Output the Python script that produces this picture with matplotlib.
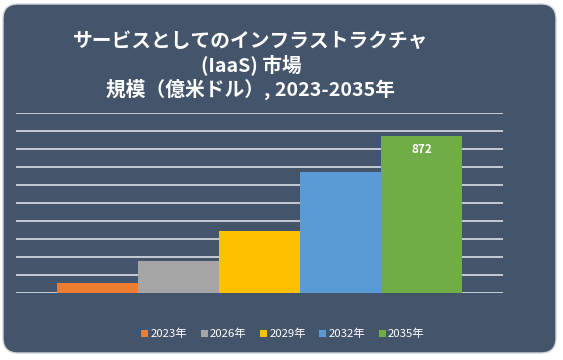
import matplotlib.pyplot as plt
from matplotlib.patches import FancyBboxPatch

plt.rcParams['font.family'] = ['Noto Sans CJK JP', 'DejaVu Sans']

years = ['2023年', '2026年', '2029年', '2032年', '2035年']
values = [59, 180, 347, 671, 872]
colors = ['#ED7D31', '#A5A5A5', '#FFC000', '#5B9BD5', '#70AD47']
title = 'サービスとしてのインフラストラクチャ\n(IaaS) 市場\n規模（億米ドル）, 2023-2035年'

bg = '#44546A'
fig = plt.figure(figsize=(5.63, 3.6), dpi=100)
fig.patch.set_facecolor('white')

# rounded dark panel (pixel coords)
panel = FancyBboxPatch((3, 7), 553, 349, boxstyle="round,pad=0,rounding_size=15",
                       transform=None, facecolor=bg, edgecolor='#D0D4DA', linewidth=1, zorder=-5)
fig.patches.append(panel)

ax = fig.add_axes([0.0284, 0.1853, 0.865, 0.5008])
ax.set_facecolor('none')
ax.set_zorder(2)

for i, (y, v, c) in enumerate(zip(years, values, colors)):
    ax.bar(i, v, width=1.0, color=c, label=y, zorder=3)

ax.set_xlim(-1, 5)
ax.set_ylim(0, 1000)
ax.set_yticks(range(0, 1001, 100))
ax.grid(axis='y', color='#E8ECF4', linewidth=1.1, zorder=1)
ax.set_axisbelow(True)
ax.set_xticks([])
ax.tick_params(axis='y', length=0, labelleft=False)
for s in ax.spines.values():
    s.set_visible(False)

ax.annotate(str(values[-1]), (4, values[-1]), xytext=(0, -10), textcoords='offset points',
            ha='center', va='center', color='white', fontsize=8.5, fontweight='bold')

fig.text(251 / 563, 1 - 66 / 360, title, ha='center', va='center', color='white',
         fontsize=14.2, fontweight='bold', linespacing=1.2, zorder=3)

leg = ax.legend(loc='center', bbox_to_anchor=(283 / 563, 1 - 334 / 360),
                bbox_transform=fig.transFigure, ncol=5, frameon=False,
                fontsize=8.2, handlelength=0.6, handleheight=0.6, handletextpad=0.2,
                columnspacing=1.2, labelcolor='white')

fig.savefig('out.png', dpi=100, facecolor=fig.get_facecolor())
